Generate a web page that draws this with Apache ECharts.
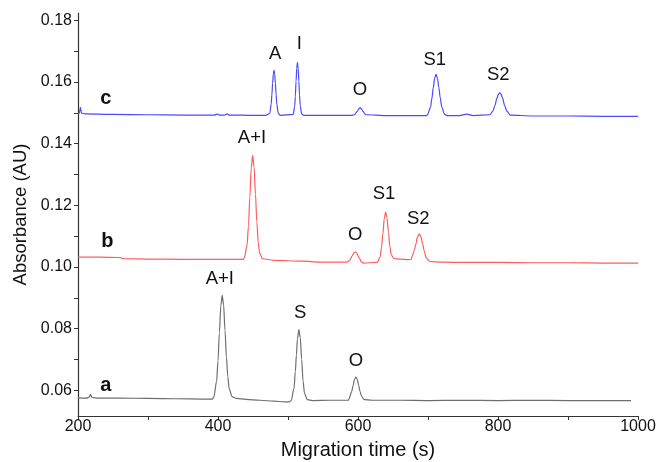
<!DOCTYPE html>
<html>
<head>
<meta charset="utf-8">
<script src="https://cdn.jsdelivr.net/npm/echarts@6/dist/echarts.min.js"></script>
<style>
  html, body { margin: 0; padding: 0; background: #fff; }
  #chart { width: 659px; height: 462px; }
</style>
</head>
<body>
<div id="chart"></div>
<script>
// migration time (s), absorbance (AU) -- trace a (bottom, grey)
const traceA = [
  [200, 0.0576], [212, 0.0575], [216, 0.0578], [218, 0.0587], [220, 0.0577], [230, 0.0575],
  [260, 0.0575], [300, 0.0574], [340, 0.0573], [380, 0.0572], [392, 0.0572],
  [394, 0.0578], [398, 0.0629], [400, 0.0696], [402, 0.0787], [404, 0.0874], [406, 0.0908],
  [408, 0.0878], [410, 0.0795], [412, 0.0708], [414, 0.0645], [416, 0.0605], [420, 0.0580], [426, 0.0574],
  [440, 0.0571], [460, 0.0568], [480, 0.0565], [495, 0.0563], [502, 0.0563],
  [504.5, 0.0567], [508.5, 0.0605], [510.5, 0.0661], [512, 0.0715], [513.5, 0.0767], [515.5, 0.0797],
  [517.5, 0.0772], [519.5, 0.0700], [521.5, 0.0631], [523.5, 0.0591], [527.5, 0.0570],
  [535, 0.0567], [560, 0.0568], [580, 0.0568], [586, 0.0568],
  [587, 0.0572], [591, 0.0596], [593, 0.0616], [595, 0.0636], [597, 0.0643],
  [599, 0.0636], [601, 0.0616], [603, 0.0596], [605, 0.0581], [609, 0.0570],
  [620, 0.0568], [660, 0.0568], [700, 0.0567], [750, 0.0568], [800, 0.0567],
  [850, 0.0568], [900, 0.0567], [950, 0.0567], [990, 0.0567]
]

// trace b (middle, red)
const traceB = [
  [200, 0.1032], [230, 0.1032], [260, 0.1031], [265, 0.1027], [300, 0.1026], [350, 0.1025],
  [400, 0.1025], [430, 0.1025], [436, 0.1025],
  [437.5, 0.1029], [441.5, 0.1071], [443.5, 0.1133], [445.5, 0.1227], [447.5, 0.1322], [449.5, 0.1362],
  [451.5, 0.1325], [453.5, 0.1237], [455.5, 0.1146], [457.5, 0.1079], [459.5, 0.1045], [463.5, 0.1027],
  [480, 0.1022], [520, 0.1019], [546, 0.1016], [585, 0.1016],
  [588, 0.1022], [592, 0.1037], [594, 0.1046], [596, 0.1049], [598, 0.1046], [600, 0.1037],
  [602, 0.1028], [605, 0.1016], [608, 0.1013],
  [627.5, 0.1015], [631.5, 0.1032], [633.5, 0.1062], [635.5, 0.1107], [637.5, 0.1157], [639.5, 0.1178],
  [641.5, 0.1160], [643.5, 0.1113], [645.5, 0.1067], [647.5, 0.1040], [651.5, 0.1027],
  [660, 0.1026], [672, 0.1024], [676, 0.1025],
  [677.5, 0.1035], [680.5, 0.1055], [682.5, 0.1074], [685, 0.1098], [687.5, 0.1108],
  [690, 0.1098], [692.5, 0.1074], [694.5, 0.1053], [697.5, 0.1030], [702.5, 0.1018],
  [720, 0.1016], [760, 0.1015], [800, 0.1015], [850, 0.1014], [900, 0.1014], [950, 0.1013], [1000, 0.1013]
]

// trace c (top, blue)
const traceC = [
  [200, 0.1497], [202, 0.1500], [203.5, 0.1518], [205, 0.1499], [210, 0.1497], [250, 0.1495],
  [300, 0.1494], [350, 0.1493], [395, 0.1493], [399, 0.1496], [402, 0.1493], [409, 0.1493],
  [413, 0.1497], [416, 0.1493], [450, 0.1492], [468, 0.1492],
  [474, 0.1498], [476, 0.1529], [477, 0.1559], [478, 0.1596], [479, 0.1626], [480, 0.1638],
  [481, 0.1626], [482, 0.1596], [483, 0.1559], [484, 0.1529], [486, 0.1499], [489, 0.1492],
  [507.5, 0.1495], [509.5, 0.1520], [510.5, 0.1554], [511.5, 0.1602], [512.5, 0.1645], [513.5, 0.1664],
  [514.5, 0.1645], [515.5, 0.1602], [516.5, 0.1557], [517.5, 0.1523], [519.5, 0.1497], [522.5, 0.1492],
  [550, 0.1492], [590, 0.1492],
  [595, 0.1494], [599, 0.1505], [601, 0.1513], [603, 0.1517], [605, 0.1513], [607, 0.1505], [611, 0.1494],
  [640, 0.1491], [690, 0.1491], [698, 0.1491],
  [699.5, 0.1495], [703.5, 0.1518], [705.5, 0.1546], [707.5, 0.1581], [709.5, 0.1612], [711.5, 0.1625],
  [713.5, 0.1612], [715.5, 0.1582], [717.5, 0.1549], [719.5, 0.1520], [723.5, 0.1496], [727.5, 0.1491],
  [745, 0.1491], [755, 0.1496], [765, 0.1491],
  [788.5, 0.1494], [792.5, 0.1505], [795.5, 0.1523], [798.5, 0.1548], [800.5, 0.1560], [802.5, 0.1565],
  [804.5, 0.1560], [806.5, 0.1548], [809.5, 0.1524], [812.5, 0.1506], [817.5, 0.1493],
  [850, 0.1490], [900, 0.1490], [950, 0.1489], [1000, 0.1489]
]

// peak labels: [text, time, absorbance]
const peakLabels = [
  ['A+I', 402.6, 0.0960], ['S', 517.4, 0.0851], ['O', 596.9, 0.0697],
  ['A+I', 448.5, 0.1420], ['O', 595.9, 0.1103], ['S1', 637.2, 0.1236], ['S2', 686.2, 0.1157],
  ['A', 481.7, 0.1690], ['I', 516.0, 0.1725], ['O', 602.6, 0.1573], ['S1', 709.6, 0.1671], ['S2', 800.3, 0.1622]
]
const traceNames = [['a', 239.9, 0.0617], ['b', 242.1, 0.1082], ['c', 239.9, 0.1548]]

const xLabels = [200, 400, 600, 800, 1000]
const xTicks = [200, 300, 400, 500, 600, 700, 800, 900, 1000]
const yLabels = [0.06, 0.08, 0.10, 0.12, 0.14, 0.16, 0.18]
const yTicks = [0.06, 0.07, 0.08, 0.09, 0.10, 0.11, 0.12, 0.13, 0.14, 0.15, 0.16, 0.17, 0.18]

const font = 'Liberation Sans, Arial, sans-serif'
const chart = echarts.init(document.getElementById('chart'))

function lineSeries(data, color) {
  return {
    type: 'line',
    data: data,
    showSymbol: false,
    smooth: 0.3,
    smoothMonotone: 'x',
    lineStyle: { color: color, width: 1.2 },
    silent: true
  }
}

function textSeries(list, size, weight) {
  return {
    type: 'scatter',
    symbolSize: 0,
    silent: true,
    itemStyle: { opacity: 1 },
    data: list.map(l => ({ name: l[0], value: [l[1], l[2]] })),
    label: {
      show: true,
      position: 'inside',
      formatter: p => p.name,
      color: '#111',
      fontFamily: font,
      fontSize: size,
      fontWeight: weight
    }
  }
}

const option = {
  animation: false,
  grid: { left: 78, right: 21, top: 13, bottom: 46, outerBoundsMode: 'none' },
  xAxis: {
    type: 'value',
    min: 200,
    max: 1000,
    interval: 100,
    name: 'Migration time (s)',
    nameLocation: 'middle',
    nameGap: 24,
    nameTextStyle: { fontFamily: font, fontSize: 20, color: '#111' },
    splitLine: { show: false },
    axisLine: { lineStyle: { color: '#333', width: 1.2 } },
    axisTick: { inside: false, length: 4, lineStyle: { color: '#333' }, customValues: xTicks },
    axisLabel: {
      customValues: xLabels,
      margin: 3,
      fontFamily: font,
      fontSize: 16,
      color: '#111',
      formatter: v => String(v)
    }
  },
  yAxis: {
    type: 'value',
    min: 0.0517,
    max: 0.1824,
    name: 'Absorbance (AU)',
    nameLocation: 'middle',
    nameGap: 44,
    nameTextStyle: { fontFamily: font, fontSize: 18.5, color: '#111' },
    splitLine: { show: false },
    axisLine: { show: true, lineStyle: { color: '#333', width: 1.2 } },
    axisTick: { show: true, inside: false, length: 4, lineStyle: { color: '#333' }, customValues: yTicks },
    axisLabel: {
      customValues: yLabels,
      margin: 6,
      fontFamily: font,
      fontSize: 16,
      color: '#111',
      formatter: v => v.toFixed(2)
    }
  },
  series: [
    lineSeries(traceA, '#6e6e6e'),
    lineSeries(traceB, '#ff5c5c'),
    lineSeries(traceC, '#4a4aff'),
    textSeries(peakLabels, 18.5, 'normal'),
    textSeries(traceNames, 20, 'bold')
  ]
}

chart.setOption(option)
</script>
</body>
</html>
